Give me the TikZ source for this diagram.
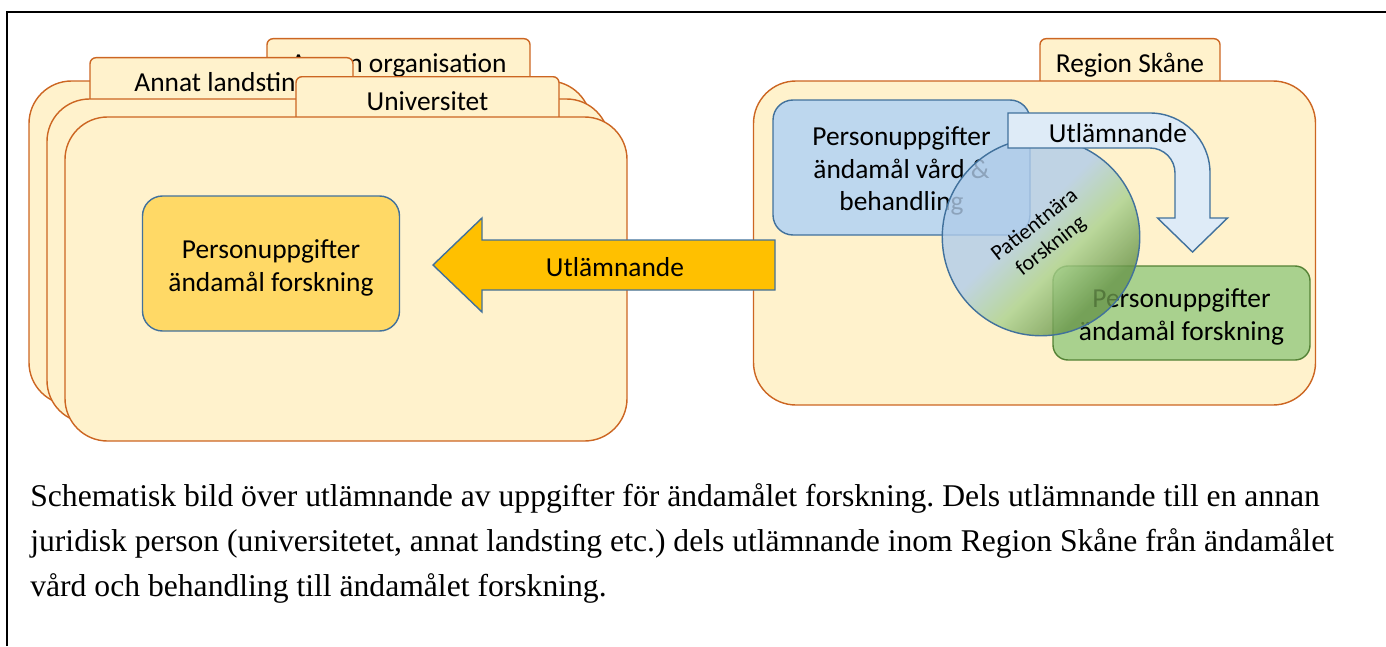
\documentclass[tikz,border=0pt]{standalone}
\usepackage{fontspec}
\setmainfont{Carlito}
\newfontfamily\capfont{Liberation Serif}
\usetikzlibrary{positioning}
\definecolor{CR}{RGB}{255,242,204}
\definecolor{OR}{RGB}{204,102,34}
\definecolor{BL}{RGB}{65,113,156}
\definecolor{YE}{RGB}{255,217,102}
\definecolor{GO}{RGB}{255,192,0}
\definecolor{LB}{RGB}{189,215,238}
\definecolor{CB}{RGB}{176,204,234}
\definecolor{PB}{RGB}{222,235,247}
\definecolor{LG}{RGB}{169,209,142}
\definecolor{DG}{RGB}{84,130,53}
\definecolor{MG}{RGB}{105,150,75}
\newcommand{\dfont}{\fontsize{15.6}{18.6}\selectfont}
\pgfdeclareverticalshading{patshade}{100bp}{color(0bp)=(MG); color(29bp)=(MG);
  color(42bp)=(LG); color(55bp)=(CB); color(100bp)=(CB)}
\frenchspacing

\begin{document}
\begin{tikzpicture}[
  folder/.style={draw=OR, fill=CR, rounded corners=0.85cm, line width=0.8pt,
                 minimum width=11.24cm, minimum height=6.48cm},
  tab/.style={draw=OR, fill=CR, rounded corners=0.12cm, line width=0.8pt,
              anchor=north, minimum width=#1, minimum height=1.2cm,
              text height=0.7em, text depth=0.22em, font=\dfont},
  data/.style={draw=BL, fill=#1, rounded corners=0.4cm, line width=0.8pt,
               minimum width=5.14cm},
  dtext/.style={align=center, inner sep=0pt, font=\dfont},
  barr/.style={draw=BL, line width=0.8pt, line join=miter},
  lbl/.style={font=\dfont, inner sep=0pt}
]
\useasboundingbox (0,0) rectangle (27.72,12.92);
\draw[line width=1.1pt] (0.14,0) -- (0.14,12.68) -- (27.72,12.68);

% Other legal persons (stacked folders)
\node[tab=5.26cm] (tabA) at (7.97,12.16) {Annan organisation};
\node[folder] (orgA) at (6.20,8.06) {};
\node[tab=5.26cm] (tabB) at (4.43,11.78) {Annat landsting};
\node[folder] (orgB) at (6.56,7.70) {};
\node[tab=5.26cm] (tabC) at (8.55,11.40) {Universitet};
\node[folder] (orgC) at (6.92,7.34) {};
\node[data=YE, minimum height=2.70cm] (resL) at (5.42,7.65) {};
\node[dtext] (resLTxt) at ([yshift=-0.09cm]resL.center) {Personuppgifter\\ändamål forskning};

% Region Skane
\node[tab=3.60cm] (tabR) at (22.60,12.16) {Region Skåne};
\node[folder] (reg) at (20.69,8.06) {};
\node[data=LB, minimum height=2.70cm] (vard) at (18.03,9.57) {};
\node[dtext] (vardTxt) at ([yshift=-0.07cm]vard.center) {Personuppgifter\\ändamål vård \&\\behandling};
\node[data=LG, draw=DG, minimum height=1.88cm, rounded corners=0.3cm] (resR) at (23.63,6.66) {};
\node[dtext] (resRTxt) at ([yshift=-0.08cm]resR.center) {Personuppgifter\\ändamål forskning};
\node[circle, draw=BL, line width=0.8pt, minimum size=3.95cm, fill opacity=0.8,
      shading=patshade, shading angle=45] (pat) at (20.82,8.18) {};
\node[rotate=38, align=center, inner sep=0pt, font=\fontsize{12.5}{15}\selectfont] (patTxt) at (20.86,8.20)
  {Patientnära\\forskning};

% Internal transfer
\draw[barr, fill=PB] (20.16,10.66) -- (23.00,10.66) arc[start angle=90, end angle=0, radius=1.2]
  -- (24.20,8.56) -- (24.55,8.56) -- (23.85,7.88) -- (23.15,8.56) -- (23.50,8.56) -- (23.50,9.46)
  arc[start angle=0, end angle=90, radius=0.5] -- (20.16,9.96) -- cycle;
\node[lbl] (utlR) at (22.36,10.26) {Utlämnande};

% External transfer
\draw[barr, fill=GO] (15.50,8.12) -- (9.64,8.12) -- (9.64,8.56) -- (8.66,7.62)
  -- (9.64,6.68) -- (9.64,7.12) -- (15.50,7.12) -- cycle;
\node[lbl] (utlL) at (12.30,7.58) {Utlämnande};

% Caption
\node[anchor=north west, align=left, inner sep=0pt, font=\capfont\fontsize{18}{25.5}\selectfont] (cap) at (0.60,3.25)
  {Schematisk bild över utlämnande av uppgifter för ändamålet forskning. Dels utlämnande till en annan\\
   juridisk person (universitetet, annat landsting etc.) dels utlämnande inom Region Skåne från ändamålet\\
   vård och behandling till ändamålet forskning.};
\end{tikzpicture}
\end{document}
